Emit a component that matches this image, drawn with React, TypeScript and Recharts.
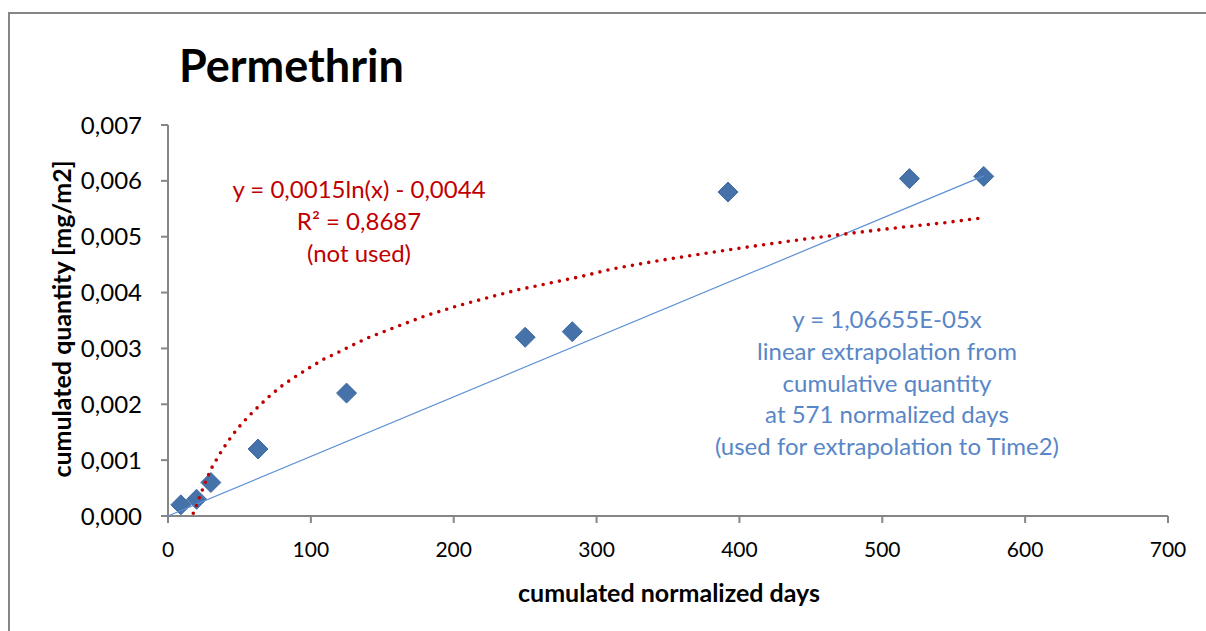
import { Scatter, ScatterChart, XAxis, YAxis } from "recharts";

// measured points (cumulated normalized days -> cumulated quantity mg/m2)
const days = [9, 20, 30, 63, 125, 250, 283, 392, 519, 571];
const quantity = [0.0002, 0.0003, 0.0006, 0.0012, 0.0022, 0.0032, 0.0033, 0.0058, 0.00604, 0.00608];

// logarithmic trendline
const logDays = [17.7, 21.7, 25.9, 30.1, 35.7, 41.8, 48.5, 55.8, 63.7, 72.1, 80.7, 90.1, 99.4, 109.2, 119.2, 129.3, 139, 160, 180.9, 202.3, 224, 245, 267.4, 289.6, 310.3, 343, 375.7, 409.5, 443.3, 477.4, 510, 543.5, 571];
const logQty = [0.00005, 0.00031, 0.00059, 0.00084, 0.00109, 0.00133, 0.00156, 0.00177, 0.00197, 0.00217, 0.00235, 0.00251, 0.00266, 0.00281, 0.00293, 0.00306, 0.00318, 0.00339, 0.00359, 0.00376, 0.00391, 0.00405, 0.00417, 0.00429, 0.00442, 0.00457, 0.0047, 0.00483, 0.00495, 0.00506, 0.00516, 0.00525, 0.00534];

// linear extrapolation line
const linDays = [0, 571];
const linQty = [0, 0.00609];

const xTicks = [0, 100, 200, 300, 400, 500, 600, 700];
const yTicks = [0, 0.001, 0.002, 0.003, 0.004, 0.005, 0.006, 0.007];

const redLines = ["y = 0,0015ln(x) - 0,0044", "R² = 0,8687", "(not used)"];
const blueLines = [
  "y = 1,06655E-05x",
  "linear extrapolation from",
  "cumulative quantity",
  "at 571 normalized days",
  "(used for extrapolation to Time2)",
];

const FONT = "Lato, 'Open Sans', sans-serif";
const AXIS = "#868686";

const points = days.map((x, i) => ({ x, y: quantity[i] }));
const logPoints = logDays.map((x, i) => ({ x, y: logQty[i] }));
const linPoints = linDays.map((x, i) => ({ x, y: linQty[i] }));

function Diamond(props: any) {
  const { cx, cy } = props;
  const r = 10;
  return (
    <path
      d={`M${cx},${cy - r}L${cx + r},${cy}L${cx},${cy + r}L${cx - r},${cy}Z`}
      fill="#4672aa"
      stroke="#416ba2"
      strokeWidth={1}
    />
  );
}

const noShape = () => <g />;

function Note({ lines, x, y, color }: { lines: string[]; x: number; y: number; color: string }) {
  return (
    <>
      {lines.map((t, i) => (
        <div
          key={t}
          style={{
            position: "absolute",
            left: x,
            top: y + i * 31.8,
            transform: "translate(-50%, -50%)",
            whiteSpace: "nowrap",
            fontSize: 24,
            color,
          }}
        >
          {t}
        </div>
      ))}
    </>
  );
}

export default function App() {
  const fmt = (v: number) => v.toFixed(3).replace(".", ",");

  return (
    <div
      style={{
        position: "absolute",
        left: 0,
        top: 0,
        width: 1206,
        height: 631,
        overflow: "hidden",
        background: "#fff",
        fontFamily: FONT,
      }}
    >
      <div
        style={{
          position: "absolute",
          left: 8,
          top: 12,
          width: 1400,
          height: 800,
          border: `2px solid ${AXIS}`,
        }}
      />
      <ScatterChart
        width={1206}
        height={631}
        margin={{ top: 125, right: 38, left: 108, bottom: 75 }}
        style={{ position: "absolute", left: 0, top: 0 }}
      >
        <XAxis
          type="number"
          dataKey="x"
          domain={[0, 700]}
          ticks={xTicks}
          height={40}
          tickSize={7}
          tickMargin={19}
          stroke={AXIS}
          strokeWidth={2}
          tick={{ fill: "#000", fontSize: 21, fontFamily: FONT }}
        />
        <YAxis
          type="number"
          dataKey="y"
          domain={[0, 0.007]}
          ticks={yTicks}
          width={60}
          tickSize={7}
          tickMargin={19}
          tickFormatter={fmt}
          stroke={AXIS}
          strokeWidth={2}
          tick={{ fill: "#000", fontSize: 24, fontFamily: FONT }}
        />
        <Scatter data={points} shape={Diamond} isAnimationActive={false} />
        <Scatter
          data={linPoints}
          shape={noShape}
          line={{ stroke: "#5b8fd6", strokeWidth: 1.2 }}
          lineType="joint"
          isAnimationActive={false}
        />
        <Scatter
          data={logPoints}
          shape={noShape}
          line={{ stroke: "#c00000", strokeWidth: 3.6, strokeDasharray: "0 8.3", strokeLinecap: "round" }}
          lineType="joint"
          isAnimationActive={false}
        />
      </ScatterChart>
      <div
        style={{
          position: "absolute",
          left: 179,
          top: 65,
          transform: "translateY(-50%)",
          fontSize: 45,
          fontWeight: 700,
          color: "#000",
        }}
      >
        Permethrin
      </div>
      <div
        style={{
          position: "absolute",
          left: 61,
          top: 319,
          transform: "translate(-50%, -50%) rotate(-90deg)",
          whiteSpace: "nowrap",
          fontSize: 25,
          fontWeight: 700,
        }}
      >
        cumulated quantity [mg/m2]
      </div>
      <div
        style={{
          position: "absolute",
          left: 669,
          top: 592,
          transform: "translate(-50%, -50%)",
          whiteSpace: "nowrap",
          fontSize: 25,
          fontWeight: 700,
        }}
      >
        cumulated normalized days
      </div>
      <Note lines={redLines} x={359} y={188} color="#c00000" />
      <Note lines={blueLines} x={887} y={318} color="#5886c6" />
    </div>
  );
}
